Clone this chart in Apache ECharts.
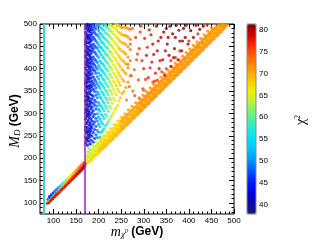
<!DOCTYPE html>
<html><head><meta charset="utf-8">
<script src="https://cdn.jsdelivr.net/npm/echarts@6/dist/echarts.min.js"></script>
<style>html,body{margin:0;padding:0;background:#fff}#c{width:315px;height:245px}</style>
</head><body><div id="c"></div>
<script>
// ---- tick labels ----
var xMajor = [100,150,200,250,300,350,400,450,500];
var xMinor = [80,90,110,120,130,140,160,170,180,190,210,220,230,240,260,270,280,290,310,320,330,340,360,370,380,390,410,420,430,440,460,470,480,490];
var yMajor = [100,150,200,250,300,350,400,450,500];
var yMinor = [80,90,110,120,130,140,160,170,180,190,210,220,230,240,260,270,280,290,310,320,330,340,360,370,380,390,410,420,430,440,460,470,480,490];
var cbTicks = [40,45,50,55,60,65,70,75,80];
var cutLines = [79,170];

// ---- low-mass strip [m_chi, M_D, chi2] ----
var strip = [
[86,99,79],[87,104,62],[88,108,47],
[90,101,80],[91,106,70],[92,111,50],[91,114,43],
[94,105,80],[95,110,74],[96,114,55],[95,118,44],
[98,109,81],[99,113,76],[100,118,58],[99,122,45],
[102,113,80],[103,117,75],[104,122,60],[103,126,47],
[106,117,80],[107,121,76],[108,126,62],[107,130,48],
[110,121,80],[111,125,75],[112,130,63],[111,134,50],
[114,125,79],[115,129,74],[116,134,64],[115,138,53],
[118,129,80],[119,133,75],[120,138,66],[119,142,56],
[122,133,79],[123,137,74],[124,142,67],[123,146,58],
[126,137,80],[127,141,75],[128,146,68],[127,150,61],
[130,141,79],[131,145,74],[132,150,69],[131,154,63],
[134,145,80],[135,149,75],[136,154,70],[135,158,65],
[138,149,79],[139,153,75],[140,158,71],[139,162,67],
[142,153,80],[143,157,76],[144,162,72],[143,166,68],
[146,157,80],[147,161,76],[148,166,73],[147,170,70],
[150,161,80],[151,165,77],[152,170,74],[151,174,71],
[154,165,80],[155,169,77],[156,174,75],[155,178,72],
[158,169,81],[159,173,78],[160,178,75],[159,182,73],
[162,173,80],[163,177,78],[164,182,76],[163,186,74],
[166,177,81],[167,181,79],[168,186,77],[167,190,75],
[169,182,80],[170,188,78]
];

// ---- near-diagonal band [m_chi, M_D, chi2] ----
var band = [
[172,186,66],[173,195,64],[174,204,63],[176,214,62],[176,190,67],[177,201,65],[178,222,62],
[180,192,67],[181,200,65],[183,210,64],[182,220,63],[184,196,68],[185,207,66],[186,229,63],
[188,200,68],[189,208,66],[190,217,65],[191,226,64],[192,205,68],[193,214,66],[194,236,64],
[196,208,68],[197,216,67],[198,225,66],[199,233,65],[200,211,68],[201,221,67],[202,244,65],
[204,216,69],[205,224,67],[206,232,66],[205,241,66],[208,220,69],[209,229,68],[210,250,66],
[212,224,69],[213,232,68],[214,240,67],[213,249,67],[216,227,69],[217,238,68],[218,258,67],
[220,232,69],[221,240,68],[222,249,68],[223,257,67],[224,236,69],[225,245,68],[226,266,67],
[228,240,70],[229,248,69],[230,257,68],[231,266,68],[232,243,70],[233,254,69],[234,275,68],
[236,248,70],[237,256,69],[238,265,69],[239,273,68],[240,251,70],[241,262,69],[242,283,68],
[244,256,70],[245,264,70],[246,273,69],[247,282,69],[248,259,70],[249,270,70],[250,291,69],
[252,264,71],[253,272,70],[254,281,70],[255,290,69],[256,267,71],[257,278,70],[258,299,70],
[260,272,71],[261,280,70],[262,289,70],[263,298,70],[264,275,71],[265,286,70],[266,308,71],
[268,280,71],[269,288,71],[270,297,70],[271,306,70],[272,283,71],[273,294,70],[274,316,71],
[276,288,71],[277,296,71],[278,305,70],[279,313,70],[280,291,71],[281,302,71],[282,324,71],
[284,296,71],[285,304,71],[286,313,70],[287,322,71],[288,299,72],[289,310,71],[290,333,72],
[292,304,72],[293,312,71],[294,321,71],[295,330,71],[296,307,72],[297,318,71],[298,341,72],
[300,312,72],[301,320,71],[302,329,71],[303,338,72],[304,315,72],[305,326,71],[306,349,72],
[308,320,72],[309,328,71],[310,337,71],[311,345,72],[312,323,72],[313,334,71],[314,357,72],
[316,328,72],[317,336,71],[318,345,71],[319,353,72],[320,331,72],[321,342,71],[322,365,72],
[324,336,72],[325,344,71],[326,353,71],[327,361,72],[328,339,72],[329,350,71],[330,373,72],
[332,344,72],[333,352,71],[334,361,71],[335,369,72],[336,347,72],[337,358,71],[338,381,72],
[340,352,72],[341,360,71],[342,369,71],[343,377,72],[344,355,72],[345,366,71],[346,389,72],
[348,360,72],[349,368,71],[350,377,71],[351,384,72],[352,363,72],[353,374,71],[354,397,72],
[356,368,72],[357,376,71],[358,385,71],[359,392,72],[360,371,72],[361,382,71],[362,404,72],
[364,376,72],[365,384,71],[366,393,71],[367,400,72],[368,379,72],[369,390,71],[370,412,72],
[372,384,72],[373,392,71],[374,401,71],[375,408,72],[376,387,72],[377,398,71],[378,420,72],
[380,392,72],[381,400,71],[382,409,71],[383,416,72],[384,395,72],[385,406,71],[386,428,72],
[388,400,72],[389,408,71],[390,417,71],[391,424,72],[392,403,72],[393,414,71],[394,436,72],
[396,408,72],[397,416,71],[398,425,71],[399,432,72],[400,411,72],[401,422,71],[402,444,72],
[404,416,72],[405,424,71],[406,433,71],[407,440,72],[408,419,72],[409,430,71],[410,452,72],
[412,424,72],[413,432,71],[414,441,71],[415,448,72],[416,427,72],[417,438,71],[418,460,72],
[420,432,72],[421,440,71],[422,449,71],[423,456,72],[424,435,72],[425,446,71],[426,468,72],
[428,440,72],[429,448,71],[430,457,71],[431,464,72],[432,443,72],[433,454,71],[434,476,72],
[436,448,72],[437,456,71],[438,465,71],[439,472,72],[440,451,72],[441,462,71],[442,484,72],
[444,456,72],[445,464,71],[446,473,71],[447,480,72],[448,459,72],[449,470,71],[450,492,72],
[452,464,72],[453,472,71],[454,481,71],[455,488,72],[456,467,72],[457,478,71],
[460,472,72],[461,480,71],[462,489,71],[463,496,72],[464,475,72],[465,486,71],
[468,480,72],[469,488,71],[470,497,71],[472,483,72],[473,494,71],
[476,488,72],[477,496,71],[480,492,72],
[484,497,72]
];

// ---- extra band points filling between the rows [m_chi, M_D, chi2] ----
var bandFill = [
[174,190,67],[174,199,65],[174,207,64],[178,193,67],[178,203,65],[178,211,64],
[182,198,67],[182,207,65],[182,216,64],[186,202,67],[186,210,65],[186,219,64],
[190,206,67],[190,215,65],[190,223,64],[194,209,67],[194,219,65],[194,228,64],
[198,214,67],[198,223,65],[198,231,64],[202,218,69],[202,226,68],[202,236,67],
[206,222,69],[206,231,68],[206,239,67],[210,225,69],[210,235,68],[210,243,67],
[214,230,69],[214,239,68],[214,248,67],[218,234,69],[218,242,68],[218,251,67],
[222,238,69],[222,247,68],[222,255,67],[226,241,69],[226,251,68],[226,260,67],
[230,246,69],[230,255,68],[230,263,67],[234,250,69],[234,258,68],[234,267,67],
[238,254,69],[238,263,68],[238,271,67],[242,257,69],[242,267,68],[242,276,67],
[246,262,69],[246,271,68],[246,279,67],[250,266,70],[250,274,70],[250,283,71],
[254,270,70],[254,279,70],[254,287,71],[258,273,70],[258,283,70],[258,292,71],
[262,278,70],[262,287,70],[262,295,71],[266,282,70],[266,290,70],[266,299,71],
[270,286,70],[270,295,70],[270,303,71],[274,289,70],[274,299,70],[274,308,71],
[278,294,70],[278,303,70],[278,311,71],[282,298,70],[282,306,70],[282,315,71],
[286,302,70],[286,311,70],[286,319,71],[290,305,71],[290,315,71],[290,324,72],
[294,310,71],[294,319,71],[294,327,72],[298,314,71],[298,322,71],[298,331,72],
[302,318,71],[302,327,71],[302,335,72],[306,321,71],[306,331,71],[306,340,72],
[310,326,71],[310,335,71],[310,343,72],[314,330,71],[314,338,71],[314,347,72],
[318,334,71],[318,343,71],[318,351,72],[322,337,71],[322,347,71],[322,356,72],
[326,342,71],[326,351,71],[326,359,72],[330,346,71],[330,354,71],[330,363,72],
[334,350,71],[334,359,71],[334,367,72],[338,353,71],[338,363,71],[338,372,72],
[342,358,71],[342,367,71],[342,375,72],[346,362,71],[346,370,71],[346,379,72],
[350,366,71],[350,375,71],[350,383,72],[354,369,71],[354,379,71],[354,388,72],
[358,374,71],[358,383,71],[358,391,72],[362,378,71],[362,386,71],[362,395,72],
[366,382,71],[366,391,71],[366,399,72],[370,385,71],[370,395,71],[370,404,72],
[374,390,71],[374,399,71],[374,407,72],[378,394,71],[378,402,71],[378,411,72],
[382,398,71],[382,407,71],[382,415,72],[386,401,71],[386,411,71],[386,420,72],
[390,406,71],[390,415,71],[390,423,72],[394,410,71],[394,418,71],[394,427,72],
[398,414,71],[398,423,71],[398,431,72],[402,417,71],[402,427,71],[402,436,72],
[406,422,71],[406,431,71],[406,439,72],[410,426,71],[410,434,71],[410,443,72],
[414,430,71],[414,439,71],[414,447,72],[418,433,71],[418,443,71],[418,452,72],
[422,438,71],[422,447,71],[422,455,72],[426,442,71],[426,450,71],[426,459,72],
[430,446,71],[430,455,71],[430,463,72],[434,449,71],[434,459,71],[434,468,72],
[438,454,71],[438,463,71],[438,471,72],[442,458,71],[442,466,71],[442,475,72],
[446,462,71],[446,471,71],[446,479,72],[450,465,71],[450,475,71],[450,484,72],
[454,470,71],[454,479,71],[454,487,72],[458,474,71],[458,482,71],[458,491,72],
[462,478,71],[462,487,71],[462,495,72],[466,481,71],[466,491,71],[466,499,72],
[470,486,71],[470,495,71],[474,490,71],[474,499,71],[478,494,71],[482,498,71]
];

// ---- vertical region above threshold: per column mass, chi2, list of M_D ----
var colMass = [171,173,175,177,179,181,183,185,188,191,194,197,200,203,206,209,212,215,218,221,224,227,230,233,236,239,242,245,248,252,256,260,265,270];
var colChi2 = [38,39,40,41,42,43,44,45,46,47,48,50,51,53,54,55,56,58,59,60,62,63,64,65,66,67,67,68,69,70,70,71,72,73];
var colMD = [
[234,247,263,270,288,301,309,327,338,352,366,371,389,402,411,428,440,456,463,481,492],
[241,256,259,277,293,305,318,331,347,359,377,384,397,416,424,437,451,469,477,497],
[229,244,268,281,296,312,322,339,344,361,369,386,408,419,432,446,459,473,488,499],
[238,251,262,285,299,307,329,336,355,374,381,393,405,413,436,443,466,471,484,494],
[246,258,274,291,303,316,334,348,362,378,391,399,421,430,449,457,476,490],
[232,253,266,279,297,320,327,343,357,370,386,404,414,427,441,461,468,483,498],
[240,261,272,288,310,325,351,364,379,396,410,423,434,452,474,487,495],
[249,268,283,301,314,332,341,360,372,389,403,418,439,447,464,479,491],
[236,257,276,293,306,323,338,354,367,382,398,412,426,444,455,470,486,499],
[244,264,281,298,318,330,349,363,376,395,408,421,437,451,466,481,493],
[252,271,289,310,326,341,357,371,390,403,418,433,448,462,477,489],
[246,262,283,299,317,335,348,366,382,399,414,429,446,458,475,496],
[258,276,292,309,324,343,361,377,391,407,425,440,453,471,485,498],
[247,270,287,305,319,337,356,370,386,402,417,436,449,466,480,494],
[258,281,298,316,333,349,366,384,397,413,431,447,460,477,491],
[262,276,294,311,327,345,362,378,394,411,426,442,458,472,488],
[266,289,306,323,341,358,374,390,407,423,439,455,469,486,499],
[272,298,317,335,352,368,386,402,418,434,450,466,481,495],
[276,294,312,330,347,364,381,398,414,431,447,463,478,493],
[281,305,324,342,360,377,395,411,428,445,460,476,490],
[286,316,334,352,371,388,405,422,438,456,472,487,499],
[292,311,330,349,366,384,402,419,437,453,469,484,497],
[296,323,343,361,380,398,416,433,450,467,483,496],
[302,334,354,372,391,409,427,445,462,478,493],
[309,329,348,368,387,405,424,441,458,476,490],
[312,342,362,381,400,419,437,455,471,488,499],
[318,355,375,394,413,432,450,468,484,497],
[328,349,369,389,409,428,446,464,481,495],
[335,363,383,404,424,443,461,479,494],
[345,377,398,419,439,458,476,492],
[349,372,394,416,437,457,475,493],
[358,389,411,433,454,474,492],
[370,402,426,449,471,490],
[384,418,443,466,488]
];

// ---- sparse high-chi2 points [m_chi, M_D, chi2] ----
var sparse = [
[262,330,73],[268,360,74],[265,410,73],[270,455,74],[275,490,73],[272,385,74],
[280,340,75],[284,420,75],[282,470,76],[288,375,75],[290,445,76],[294,495,76],
[298,355,76],[300,400,77],[302,468,77],[306,430,78],[310,380,77],[312,487,78],
[318,415,78],[320,455,79],[324,372,77],[328,495,79],[330,440,79],[334,400,78],
[338,470,80],[342,420,79],[346,385,78],[350,490,80],[352,455,80],[356,430,80],
[360,405,79],[364,478,81],[368,445,80],[372,497,81],[376,420,79],[380,462,80],
[384,440,80],[388,490,81],[392,470,80],[398,455,80],[404,485,81],[410,470,80],
[416,497,81],[424,488,81],[432,495,80],
[300,352,74],[320,370,75],[340,393,76],[360,418,76],[380,440,77],[400,462,77],
[420,478,77],[440,498,77],[290,335,73],[350,400,75],
[276,350,74],[279,398,74],[286,433,75],[292,482,76],[296,418,76],[304,376,76],
[308,448,77],[314,402,77],[316,476,78],[322,432,78],[326,390,77],[332,462,79],
[336,418,78],[344,482,80],[348,440,79],[354,470,80],[358,495,81],[366,425,79],
[370,470,80],[378,486,81],[386,462,80],[394,497,81],[330,375,75],[370,425,77]
];

// colour palette of the colour bar (bottom to top)
var cbColors = ['#1a1a70','#0a0ab0','#0000e8','#0020ff','#0060ff','#00a0ff','#00ccff','#00e8ee','#30f0c0','#70f080','#b8f040','#f0f000','#ffc800','#ff9a00','#ff6a00','#ff3000','#d00000','#800000'];
var cbMin = 37.9, cbMax = 81.3;

var region3 = [];
colMass.forEach(function(m,i){ colMD[i].forEach(function(md){ region3.push([m,md,colChi2[i]]); }); });

var FONT = 'Liberation Sans, Arial, sans-serif';
var chart = echarts.init(document.getElementById('c'), null, {renderer:'canvas'});

function tickAxis(pos, ticks, label, min, max, len){
  return {
    type:'value', gridIndex:0, position:pos, min:min, max:max,
    axisLine:{show:false},
    splitLine:{show:false},
    axisTick:{show:true, inside:true, length:len, customValues: ticks, lineStyle:{color:'#000',width:1}},
    axisLabel: label ? {show:true, customValues: ticks, fontSize:8, color:'#000', fontFamily:FONT, margin:3} : {show:false}
  };
}

var scatterCommon = {type:'scatter', symbol:'circle', symbolSize:3.2, xAxisIndex:0, yAxisIndex:0, silent:true, animation:false};

chart.setOption({
  animation:false,
  grid:[
    {left:40, top:24, width:194, height:190, show:true, borderColor:'#000', borderWidth:1, backgroundColor:'transparent'},
    {left:247, top:24, width:9, height:190, show:true, borderColor:'#888', borderWidth:1, backgroundColor:'transparent', z:10}
  ],
  xAxis:[
    tickAxis('bottom',xMajor,true,70,500,5),
    tickAxis('bottom',xMinor,false,70,500,2.5),
    tickAxis('top',xMajor,false,70,500,5),
    tickAxis('top',xMinor,false,70,500,2.5),
    {type:'value', gridIndex:1, show:false, min:0, max:1}
  ],
  yAxis:[
    tickAxis('left',yMajor,true,75,500,5),
    tickAxis('left',yMinor,false,75,500,2.5),
    tickAxis('right',yMajor,false,75,500,5),
    tickAxis('right',yMinor,false,75,500,2.5),
    {type:'value', gridIndex:1, position:'right', min:cbMin, max:cbMax,
     axisLine:{show:false}, splitLine:{show:false},
     axisTick:{show:false},
     axisLabel:{show:true, customValues:cbTicks, fontSize:8, color:'#000', fontFamily:FONT, margin:3}}
  ],
  visualMap:{
    type:'continuous', min:cbMin, max:cbMax, dimension:2, seriesIndex:[0,1,2,3,4],
    inRange:{color:cbColors}, calculable:false, text:null, showLabel:false,
    left:247, top:24, itemWidth:9, itemHeight:190, padding:0, realtime:false, hoverLink:false
  },
  series:[
    Object.assign({}, scatterCommon, {name:'band', data:band,
      markLine:{silent:true, symbol:'none', animation:false, label:{show:false},
        data:[{xAxis:cutLines[0], lineStyle:{color:'#3cd2d2', width:2, type:'solid'}},
              {xAxis:cutLines[1], lineStyle:{color:'#a020c8', width:1.5, type:'solid'}}]}}),
    Object.assign({}, scatterCommon, {name:'bandFill', data:bandFill}),
    Object.assign({}, scatterCommon, {name:'vertical', data:region3}),
    Object.assign({}, scatterCommon, {name:'sparse', data:sparse}),
    Object.assign({}, scatterCommon, {name:'strip', data:strip})
  ],
  graphic:[
    {type:'text', x:15, y:121, rotation:Math.PI/2, style:{
      text:'{m|M}{s|D}{g| (GeV)}', align:'center', verticalAlign:'middle',
      rich:{m:{fontFamily:'Liberation Serif, serif', fontStyle:'italic', fontSize:14, fill:'#000'},
            s:{fontFamily:'Liberation Serif, serif', fontStyle:'italic', fontSize:9, fill:'#000', padding:[6,0,0,0]},
            g:{fontFamily:FONT, fontSize:12, fontWeight:'bold', fill:'#000'}}}},
    {type:'text', x:137, y:232, style:{
      text:'{m|m}{s|χ}{u|0}{g| (GeV)}', align:'center', verticalAlign:'middle',
      rich:{m:{fontFamily:'Liberation Serif, serif', fontStyle:'italic', fontSize:14, fill:'#000'},
            s:{fontFamily:'Liberation Serif, serif', fontStyle:'italic', fontSize:9, fill:'#000', padding:[6,0,0,0]},
            u:{fontFamily:'Liberation Serif, serif', fontStyle:'italic', fontSize:6, fill:'#000', padding:[0,0,2,0]},
            g:{fontFamily:FONT, fontSize:12, fontWeight:'bold', fill:'#000'}}}},
    {type:'text', x:301, y:120, rotation:Math.PI/2, style:{
      text:'{c|χ}{p|2}', align:'center', verticalAlign:'middle',
      rich:{c:{fontFamily:'Liberation Serif, serif', fontSize:14, fill:'#000'},
            p:{fontFamily:'Liberation Serif, serif', fontSize:8, fill:'#000', padding:[0,0,7,0]}}}}
  ]
});
</script>
</body></html>
